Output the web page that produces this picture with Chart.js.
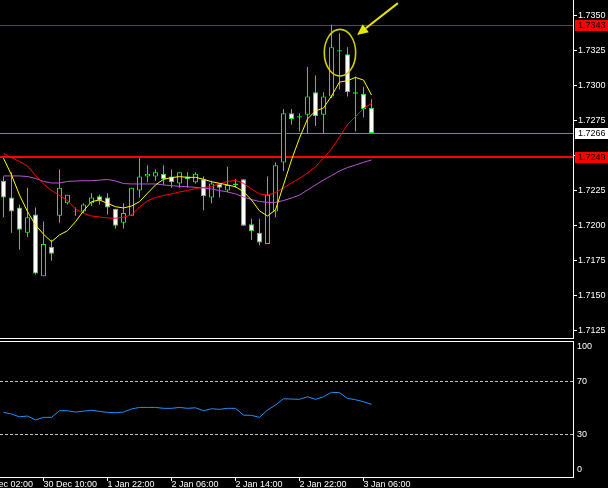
<!DOCTYPE html>
<html lang="en">
<head>
<meta charset="UTF-8">
<title>H1 chart with RSI</title>
<script src="https://cdn.jsdelivr.net/npm/chart.js@4"></script>
<style>
  html, body { margin: 0; padding: 0; background: #000; overflow: hidden; }
  #wrap { position: relative; width: 608px; height: 488px; }
  canvas { position: absolute; left: 0; }
  #priceChart { top: 0; }
  #rsiChart { top: 340px; }
</style>
</head>
<body>
<div id="wrap">
  <canvas id="priceChart" width="608" height="340" style="width:608px;height:340px"></canvas>
  <canvas id="rsiChart" width="608" height="148" style="width:608px;height:148px"></canvas>
</div>

<script>
  // candles, one per hour
  const opens  = [1.7232, 1.7220, 1.7213, 1.7195, 1.7208, 1.7164, 1.7185, 1.7207, 1.7216, 1.7210,
                  1.7210, 1.7216, 1.7221, 1.7220, 1.7212, 1.7202, 1.7207, 1.7225, 1.7235, 1.7235,
                  1.7237, 1.7235, 1.7230, 1.7235, 1.7231, 1.7233, 1.7220, 1.7230, 1.7225, 1.7229,
                  1.7233, 1.7201, 1.7195, 1.7187, 1.7210, 1.7245, 1.7280, 1.7277, 1.7279, 1.7295,
                  1.7279, 1.7292, 1.7324, 1.7322, 1.7294, 1.7294, 1.7284]
  const highs  = [1.7235, 1.7238, 1.7215, 1.7227, 1.7213, 1.7203, 1.7190, 1.7240, 1.7222, 1.7213,
                  1.7216, 1.7223, 1.7222, 1.7223, 1.7212, 1.7216, 1.7227, 1.7248, 1.7243, 1.7240,
                  1.7243, 1.7240, 1.7238, 1.7238, 1.7238, 1.7235, 1.7232, 1.7230, 1.7242, 1.7233,
                  1.7233, 1.7205, 1.7205, 1.7235, 1.7245, 1.7283, 1.7283, 1.7280, 1.7313, 1.7307,
                  1.7295, 1.7343, 1.7337, 1.7327, 1.7306, 1.7299, 1.7290]
  const lows   = [1.7206, 1.7195, 1.7183, 1.7192, 1.7165, 1.7164, 1.7175, 1.7202, 1.7215, 1.7207,
                  1.7209, 1.7214, 1.7215, 1.7208, 1.7198, 1.7198, 1.7207, 1.7220, 1.7231, 1.7232,
                  1.7229, 1.7227, 1.7227, 1.7227, 1.7230, 1.7211, 1.7216, 1.7220, 1.7224, 1.7227,
                  1.7200, 1.7190, 1.7186, 1.7187, 1.7206, 1.7239, 1.7272, 1.7267, 1.7266, 1.7271,
                  1.7266, 1.7291, 1.7297, 1.7292, 1.7267, 1.7277, 1.7266]
  const closes = [1.7220, 1.7210, 1.7197, 1.7206, 1.7166, 1.7187, 1.7180, 1.7227, 1.7222, 1.72105,
                  1.7215, 1.7220, 1.7218, 1.7213, 1.7200, 1.7209, 1.7227, 1.7235, 1.7237, 1.7238,
                  1.7233, 1.7231, 1.7238, 1.7233, 1.7237, 1.7221, 1.7230, 1.7227, 1.7229, 1.7230,
                  1.7200, 1.7196, 1.7188, 1.7222, 1.7243, 1.7280, 1.7276, 1.7278, 1.7292, 1.7278,
                  1.7292, 1.7327, 1.7325, 1.7295, 1.7295, 1.7283, 1.7266]

  // moving averages
  const maYellow = [1.72480, 1.72361, 1.72218, 1.72100, 1.72005, 1.71939, 1.71886, 1.71934, 1.71964, 1.72028,
                    1.72105, 1.72171, 1.72183, 1.72159, 1.72135, 1.72126, 1.72140, 1.72171, 1.72231, 1.72290,
                    1.72330, 1.72342, 1.72349, 1.72344, 1.72344, 1.72330, 1.72313, 1.72302, 1.72290, 1.72277,
                    1.72242, 1.72183, 1.72105, 1.72069, 1.72112, 1.72290, 1.72468, 1.72624, 1.72760, 1.72817,
                    1.72838, 1.72923, 1.73023, 1.73032, 1.73056, 1.73037, 1.72930]
  const maRed    = [1.72515, 1.72485, 1.72457, 1.72425, 1.72357, 1.72297, 1.72250, 1.72215, 1.72179, 1.72119,
                    1.72087, 1.72069, 1.72062, 1.72055, 1.72053, 1.72060, 1.72076, 1.72133, 1.72176, 1.72201,
                    1.72215, 1.72226, 1.72240, 1.72250, 1.72265, 1.72272, 1.72279, 1.72297, 1.72315, 1.72322,
                    1.72302, 1.72261, 1.72226, 1.72218, 1.72236, 1.72268, 1.72304, 1.72336, 1.72375, 1.72418,
                    1.72482, 1.72546, 1.72631, 1.72720, 1.72777, 1.72834, 1.72870]
  const maPurple = [1.72354, 1.72354, 1.72354, 1.72350, 1.72336, 1.72315, 1.72304, 1.72304, 1.72315, 1.72318,
                    1.72320, 1.72320, 1.72324, 1.72329, 1.72318, 1.72300, 1.72297, 1.72297, 1.72297, 1.72297,
                    1.72290, 1.72285, 1.72280, 1.72277, 1.72273, 1.72268, 1.72261, 1.72250, 1.72240, 1.72226,
                    1.72204, 1.72186, 1.72172, 1.72166, 1.72166, 1.72179, 1.72197, 1.72218, 1.72254, 1.72290,
                    1.72325, 1.72357, 1.72389, 1.72414, 1.72432, 1.72451, 1.72468]

  const rsi = [46.6, 45.3, 43.2, 43.8, 40.8, 42.8, 42.8, 47.8, 47.8, 46.8,
               47.5, 48.1, 47.3, 46.6, 46.3, 46.8, 49.1, 50.3, 50.3, 50.3,
               49.6, 49.6, 50.3, 49.6, 50.0, 47.8, 49.3, 48.8, 49.6, 49.6,
               44.5, 44.3, 42.8, 48.3, 52.1, 56.8, 56.6, 56.4, 58.3, 56.4,
               58.3, 61.7, 61.4, 57.1, 56.1, 54.6, 52.6]

  const priceTicks = [1.7125, 1.7150, 1.7175, 1.7200, 1.7225, 1.7250, 1.7275, 1.7300, 1.7325, 1.7350]
  const timeTickBars = [-3, 5, 13, 21, 29, 37, 45]
  const timeTickLabels = ['30 Dec 02:00', '30 Dec 10:00', '1 Jan 22:00', '2 Jan 06:00',
                          '2 Jan 14:00', '2 Jan 22:00', '3 Jan 06:00']
  const levelPrices = [1.7343, 1.7266, 1.7249]
  const rsiLevels = [30, 70]
  const rsiTicks = [0, 30, 70, 100]

  // hand-drawn marks: ellipse around the top, arrow pointing at it (bar index, price)
  const ellipseCenter = [42.06, 1.73232]
  const ellipseRadius = [1.96, 0.00166]
  const arrowFrom = [49.3, 1.73585]
  const arrowTo = [44.2, 1.73358]
</script>

<script>
  Chart.defaults.font.family = "'Liberation Sans', Arial, sans-serif"
  Chart.defaults.font.size = 9
  Chart.defaults.color = '#ffffff'

  const X_MIN = -0.4375
  const X_MAX = 71.1875
  const GREEN = '#00ff00'

  const idx = opens.map((_, i) => i)
  const wicks = idx.map(i => ({ x: i, y: [lows[i], highs[i]] }))
  const bodies = idx.map(i => ({ x: i, y: [Math.min(opens[i], closes[i]), Math.max(opens[i], closes[i])] }))
  const bodyFill = idx.map(i => closes[i] > opens[i] ? '#000000' : '#ffffff')
  const asPoints = arr => arr.map((v, i) => ({ x: i, y: v }))

  // keep the right axis 35px wide and stop chart.js from padding the plot for its labels
  const fixWidth = scale => {
    scale.width = 35
    scale.paddingTop = 0
    scale.paddingBottom = 0
  }

  const levelStyles = [
    { line: '#ff0000', width: 1, box: '#ff0000' },
    { line: '#778899', width: 1, box: '#ffffff' },
    { line: '#ff0000', width: 2, box: '#ff0000' }
  ]

  const pricePlugin = {
    id: 'pricePlugin',
    beforeDatasetsDraw(chart) {
      const { ctx, chartArea, scales: { y } } = chart
      ctx.save()
      levelPrices.forEach((p, k) => {
        const st = levelStyles[k]
        const py = Math.round(y.getPixelForValue(p)) + (st.width % 2 ? 0.5 : 0)
        ctx.strokeStyle = st.line
        ctx.lineWidth = st.width
        ctx.beginPath()
        ctx.moveTo(chartArea.left, py)
        ctx.lineTo(chartArea.right, py)
        ctx.stroke()
      })
      ctx.restore()
    },
    afterDatasetsDraw(chart) {
      const { ctx, scales: { x, y } } = chart
      ctx.save()
      // ellipse
      const cx = x.getPixelForValue(ellipseCenter[0])
      const cy = y.getPixelForValue(ellipseCenter[1])
      const rx = x.getPixelForValue(ellipseCenter[0] + ellipseRadius[0]) - cx
      const ry = cy - y.getPixelForValue(ellipseCenter[1] + ellipseRadius[1])
      ctx.strokeStyle = '#d0d000'
      ctx.lineWidth = 1.6
      ctx.beginPath()
      ctx.ellipse(cx, cy, rx, ry, 0, 0, Math.PI * 2)
      ctx.stroke()
      // arrow
      const x1 = x.getPixelForValue(arrowFrom[0]), y1 = y.getPixelForValue(arrowFrom[1])
      const x2 = x.getPixelForValue(arrowTo[0]), y2 = y.getPixelForValue(arrowTo[1])
      const ang = Math.atan2(y2 - y1, x2 - x1)
      const head = 11, half = 5
      const bx = x2 - Math.cos(ang) * head, by = y2 - Math.sin(ang) * head
      ctx.strokeStyle = '#e6e600'
      ctx.fillStyle = '#e6e600'
      ctx.lineWidth = 2
      ctx.beginPath()
      ctx.moveTo(x1, y1)
      ctx.lineTo(bx, by)
      ctx.stroke()
      ctx.beginPath()
      ctx.moveTo(x2, y2)
      ctx.lineTo(bx + Math.sin(ang) * half, by - Math.cos(ang) * half)
      ctx.lineTo(bx - Math.sin(ang) * half, by + Math.cos(ang) * half)
      ctx.closePath()
      ctx.fill()
      ctx.restore()
    },
    afterDraw(chart) {
      const { ctx, chartArea, scales: { y } } = chart
      ctx.save()
      // bottom frame of the price window
      ctx.strokeStyle = '#ffffff'
      ctx.lineWidth = 1
      ctx.beginPath()
      ctx.moveTo(0, chartArea.bottom + 0.5)
      ctx.lineTo(chartArea.right + 1, chartArea.bottom + 0.5)
      ctx.stroke()
      // price boxes on the axis
      ctx.font = "9px 'Liberation Sans', Arial, sans-serif"
      ctx.textBaseline = 'middle'
      levelPrices.forEach((p, k) => {
        const py = Math.round(y.getPixelForValue(p))
        ctx.fillStyle = levelStyles[k].box
        ctx.fillRect(chartArea.right + 2, py - 5, 608 - chartArea.right - 2, 11)
        ctx.fillStyle = '#000000'
        ctx.fillText(p.toFixed(4), chartArea.right + 5, py + 0.5)
      })
      ctx.restore()
    }
  }

  new Chart(document.getElementById('priceChart'), {
    type: 'bar',
    data: {
      datasets: [
        { type: 'line', data: asPoints(maYellow), borderColor: '#ffff00', borderWidth: 1, pointRadius: 0, tension: 0, order: 1 },
        { type: 'line', data: asPoints(maRed), borderColor: '#ff0000', borderWidth: 1, pointRadius: 0, tension: 0, order: 2 },
        { type: 'line', data: asPoints(maPurple), borderColor: '#ba55d3', borderWidth: 1, pointRadius: 0, tension: 0, order: 3 },
        {
          data: bodies, backgroundColor: bodyFill, borderColor: GREEN, borderWidth: 1,
          borderSkipped: false, barThickness: 5, grouped: false, inflateAmount: 0, order: 4
        },
        {
          data: wicks, backgroundColor: GREEN, borderWidth: 0,
          barThickness: 1, grouped: false, inflateAmount: 0, order: 5
        }
      ]
    },
    options: {
      responsive: false,
      animation: false,
      devicePixelRatio: 1,
      events: [],
      layout: { padding: { left: 0, right: 0, top: 0, bottom: 2 } },
      plugins: { legend: { display: false }, tooltip: { enabled: false } },
      scales: {
        x: {
          type: 'linear', min: X_MIN, max: X_MAX, offset: false,
          display: false, grid: { offset: false }
        },
        y: {
          position: 'right', min: 1.7120, max: 1.73607, stacked: false, beginAtZero: false,
          afterBuildTicks: s => { s.ticks = priceTicks.map(v => ({ value: v })) },
          afterFit: fixWidth,
          border: { display: true, color: '#ffffff', width: 1 },
          grid: { drawOnChartArea: false, drawTicks: true, tickLength: 4, color: '#ffffff' },
          ticks: { padding: 1, color: '#ffffff', callback: v => v.toFixed(4) }
        }
      }
    },
    plugins: [pricePlugin]
  })

  const rsiPlugin = {
    id: 'rsiPlugin',
    beforeDatasetsDraw(chart) {
      const { ctx, chartArea, scales: { y } } = chart
      ctx.save()
      ctx.strokeStyle = '#c0c0c0'
      ctx.lineWidth = 1
      ctx.setLineDash([3, 2])
      rsiLevels.forEach(v => {
        const py = Math.round(y.getPixelForValue(v)) + 0.5
        ctx.beginPath()
        ctx.moveTo(chartArea.left, py)
        ctx.lineTo(chartArea.right, py)
        ctx.stroke()
      })
      ctx.restore()
    },
    afterDraw(chart) {
      const { ctx, chartArea, scales: { y } } = chart
      ctx.save()
      ctx.strokeStyle = '#ffffff'
      ctx.lineWidth = 1
      ctx.beginPath()
      ctx.moveTo(0, chartArea.top + 0.5)
      ctx.lineTo(chartArea.right + 1, chartArea.top + 0.5)
      ctx.stroke()
      ctx.fillStyle = '#ffffff'
      ctx.font = "9px 'Liberation Sans', Arial, sans-serif"
      ctx.textBaseline = 'middle'
      rsiTicks.forEach(v => {
        let py = y.getPixelForValue(v)
        if (v === 100) py += 4.5
        if (v === 0) py -= 4.5
        ctx.fillText(String(v), chartArea.right + 4, py)
      })
      ctx.restore()
    }
  }

  new Chart(document.getElementById('rsiChart'), {
    type: 'line',
    data: {
      datasets: [
        { data: asPoints(rsi), borderColor: '#1e90ff', borderWidth: 1, pointRadius: 0, tension: 0 }
      ]
    },
    options: {
      responsive: false,
      animation: false,
      devicePixelRatio: 1,
      events: [],
      layout: { padding: { left: 0, right: 0, top: 1, bottom: 0 } },
      plugins: { legend: { display: false }, tooltip: { enabled: false } },
      scales: {
        x: {
          type: 'linear', min: X_MIN, max: X_MAX, offset: false, position: 'bottom',
          afterBuildTicks: s => { s.ticks = timeTickBars.map(v => ({ value: v })) },
          afterFit: s => { s.height = 11; s.paddingLeft = 0; s.paddingRight = 0 },
          border: { display: true, color: '#ffffff', width: 1 },
          grid: { offset: false, drawOnChartArea: false, drawTicks: true, tickLength: 4, color: '#ffffff' },
          ticks: {
            align: 'start', padding: -1, maxRotation: 0, autoSkip: false, color: '#ffffff',
            font: { size: 9, lineHeight: 1 },
            callback: (v, i) => timeTickLabels[i]
          }
        },
        y: {
          position: 'right', min: -2.2, max: 100.4,
          afterFit: fixWidth,
          border: { display: true, color: '#ffffff', width: 1 },
          grid: { display: false },
          ticks: { display: false }
        }
      }
    },
    plugins: [rsiPlugin]
  })
</script>
</body>
</html>
